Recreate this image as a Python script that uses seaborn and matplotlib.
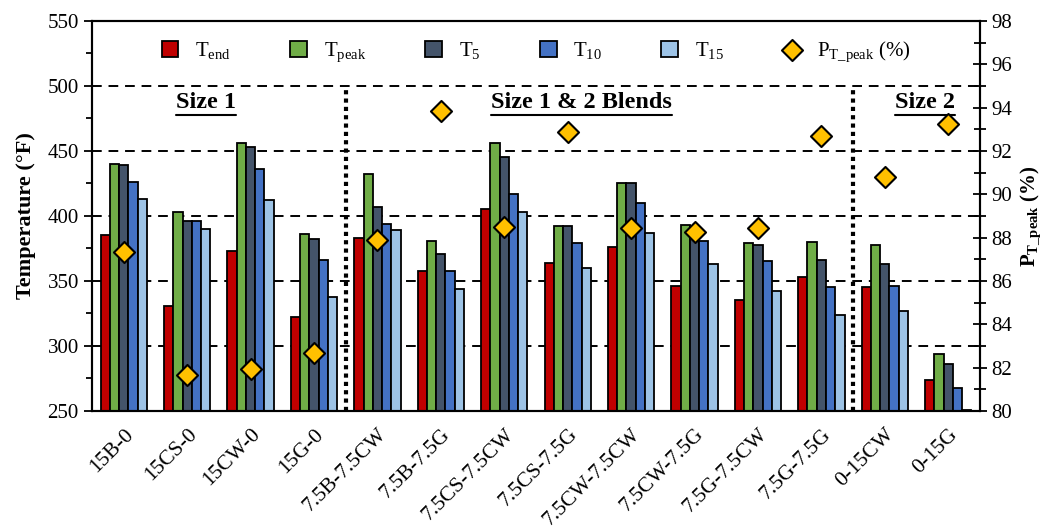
import numpy as np
import pandas as pd
import matplotlib
matplotlib.use("Agg")
import matplotlib.pyplot as plt
import seaborn as sns
from matplotlib.ticker import MultipleLocator
from matplotlib.lines import Line2D

blends = ["15B-0", "15CS-0", "15CW-0", "15G-0", "7.5B-7.5CW", "7.5B-7.5G", "7.5CS-7.5CW",
          "7.5CS-7.5G", "7.5CW-7.5CW", "7.5CW-7.5G", "7.5G-7.5CW", "7.5G-7.5G", "0-15CW", "0-15G"]
t_end = [385, 331, 373, 322, 383, 358, 405, 364, 376, 346, 335, 353, 345, 274]
t_peak = [440, 403, 456, 386, 432, 381, 456, 392, 425, 393, 379, 380, 378, 294]
t_5 = [439, 396, 453, 382, 407, 371, 445, 392, 425, 392, 378, 366, 363, 286]
t_10 = [426, 396, 436, 366, 394, 358, 417, 379, 410, 381, 365, 345, 346, 268]
t_15 = [413, 390, 412, 338, 389, 344, 403, 360, 387, 363, 342, 324, 327, 251]
p_peak = [87.35, 81.66, 81.94, 82.69, 87.89, 93.86, 88.5, 92.89, 88.46, 88.25, 88.45, 92.69, 90.78, 93.24]

metric_labels = [r"T$_{\mathrm{end}}$", r"T$_{\mathrm{peak}}$", r"T$_{\mathrm{5}}$", r"T$_{\mathrm{10}}$", r"T$_{\mathrm{15}}$"]
colors = ["#C00000", "#70AD47", "#44546A", "#4472C4", "#9DC3E6"]
section_names = ["Size 1", "Size 1 & 2 Blends", "Size 2"]
section_sizes = [4, 8, 2]
section_label_x = [1.3, 7.22, 12.64]

sns.set_style("white")
plt.rcParams["font.family"] = ["Liberation Serif", "DejaVu Serif"]
plt.rcParams["mathtext.fontset"] = "custom"
plt.rcParams["mathtext.rm"] = "Liberation Serif"
plt.rcParams["mathtext.it"] = "Liberation Serif:italic"
plt.rcParams["mathtext.bf"] = "Liberation Serif:bold"
for k in ["text.color", "axes.labelcolor", "xtick.color", "ytick.color"]:
    plt.rcParams[k] = "black"

df = pd.DataFrame({"blend": blends * 5,
                   "metric": np.repeat(metric_labels, len(blends)),
                   "temp": t_end + t_peak + t_5 + t_10 + t_15})

fig = plt.figure(figsize=(10.52, 5.31), dpi=100)
ax = fig.add_axes([0.0875, 0.226, 0.844, 0.7345])

sns.barplot(data=df, x="blend", y="temp", hue="metric", hue_order=metric_labels,
            palette=dict(zip(metric_labels, colors)), width=0.73, saturation=1,
            edgecolor="black", linewidth=1.3, ax=ax)
h1, l1 = ax.get_legend_handles_labels()
ax.get_legend().remove()

ax.set_ylim(250, 550)
ax.set_xlim(-0.5, len(blends) - 0.5)
ax.yaxis.set_major_locator(MultipleLocator(50))
ax.yaxis.set_minor_locator(MultipleLocator(25))
ax.set_axisbelow(True)
ax.yaxis.grid(True, linestyle=(0, (5, 3.5)), color="black", linewidth=1.4)
ax.set_xticks(np.arange(-0.5, len(blends), 1), minor=True)
ax.set_xticks(range(len(blends)))
ax.set_xticklabels(blends, rotation=45, ha="right", va="top", rotation_mode="anchor")
ax.tick_params(axis="x", which="major", length=0, labelsize=15.5, pad=10)
ax.tick_params(axis="x", which="minor", length=10, width=1.3, direction="inout")
ax.tick_params(axis="y", which="major", length=6, width=1.3, direction="out", labelsize=15, left=True)
ax.tick_params(axis="y", which="minor", length=4, width=1.3, direction="out", left=True)
ax.set_xlabel("")
ax.set_ylabel("Temperature (°F)", fontsize=16, fontweight="bold", labelpad=8)
for s in ax.spines.values():
    s.set_color("black")
    s.set_linewidth(1.5)

# section dividers
bounds = np.cumsum(section_sizes)[:-1] - 0.5
ax.vlines(bounds, 250, 500, colors="black", linestyles=(0, (1, 1)), linewidth=3, zorder=1)

ax2 = ax.twinx()
sns.scatterplot(x=np.arange(len(blends)), y=p_peak, marker="D", s=115, color="#FFC000",
                edgecolor="black", linewidth=1.5, ax=ax2, zorder=5, label=r"P$_{\mathrm{T\_peak}}$ (%)")
h2, l2 = ax2.get_legend_handles_labels()
ax2.get_legend().remove()
ax2.set_ylim(80, 98)
ax2.yaxis.set_major_locator(MultipleLocator(2))
ax2.yaxis.set_minor_locator(MultipleLocator(1))
ax2.tick_params(axis="y", which="major", length=10, width=1.3, direction="inout", labelsize=15, right=True)
ax2.tick_params(axis="y", which="minor", length=8, width=1.3, direction="inout", right=True)
ax2.set_ylabel(r"P$_{\mathbf{T\_peak}}$ (%)", fontsize=15, fontweight="bold")
for s in ax2.spines.values():
    s.set_color("black")
    s.set_linewidth(1.5)

ax2.legend(h1 + h2, l1 + l2, loc="upper center", bbox_to_anchor=(0.5, 1.0), ncol=6,
           frameon=False, fontsize=15, handlelength=0.8, handleheight=0.8,
           handletextpad=0.8, columnspacing=2.85)

# section titles, underlined
texts = [ax.text(x, 487, name, ha="center", va="center", fontsize=17.5, fontweight="bold", zorder=6)
         for x, name in zip(section_label_x, section_names)]
fig.canvas.draw()
r = fig.canvas.get_renderer()
inv = ax.transAxes.inverted()
for t in texts:
    bb = t.get_window_extent(r)
    (x0, y0), (x1, _) = inv.transform([(bb.x0, bb.y0), (bb.x1, bb.y1)])
    ax.add_line(Line2D([x0, x1], [y0 - 0.004, y0 - 0.004], transform=ax.transAxes,
                       color="black", linewidth=1.5))

fig.savefig("out.png", dpi=100)
